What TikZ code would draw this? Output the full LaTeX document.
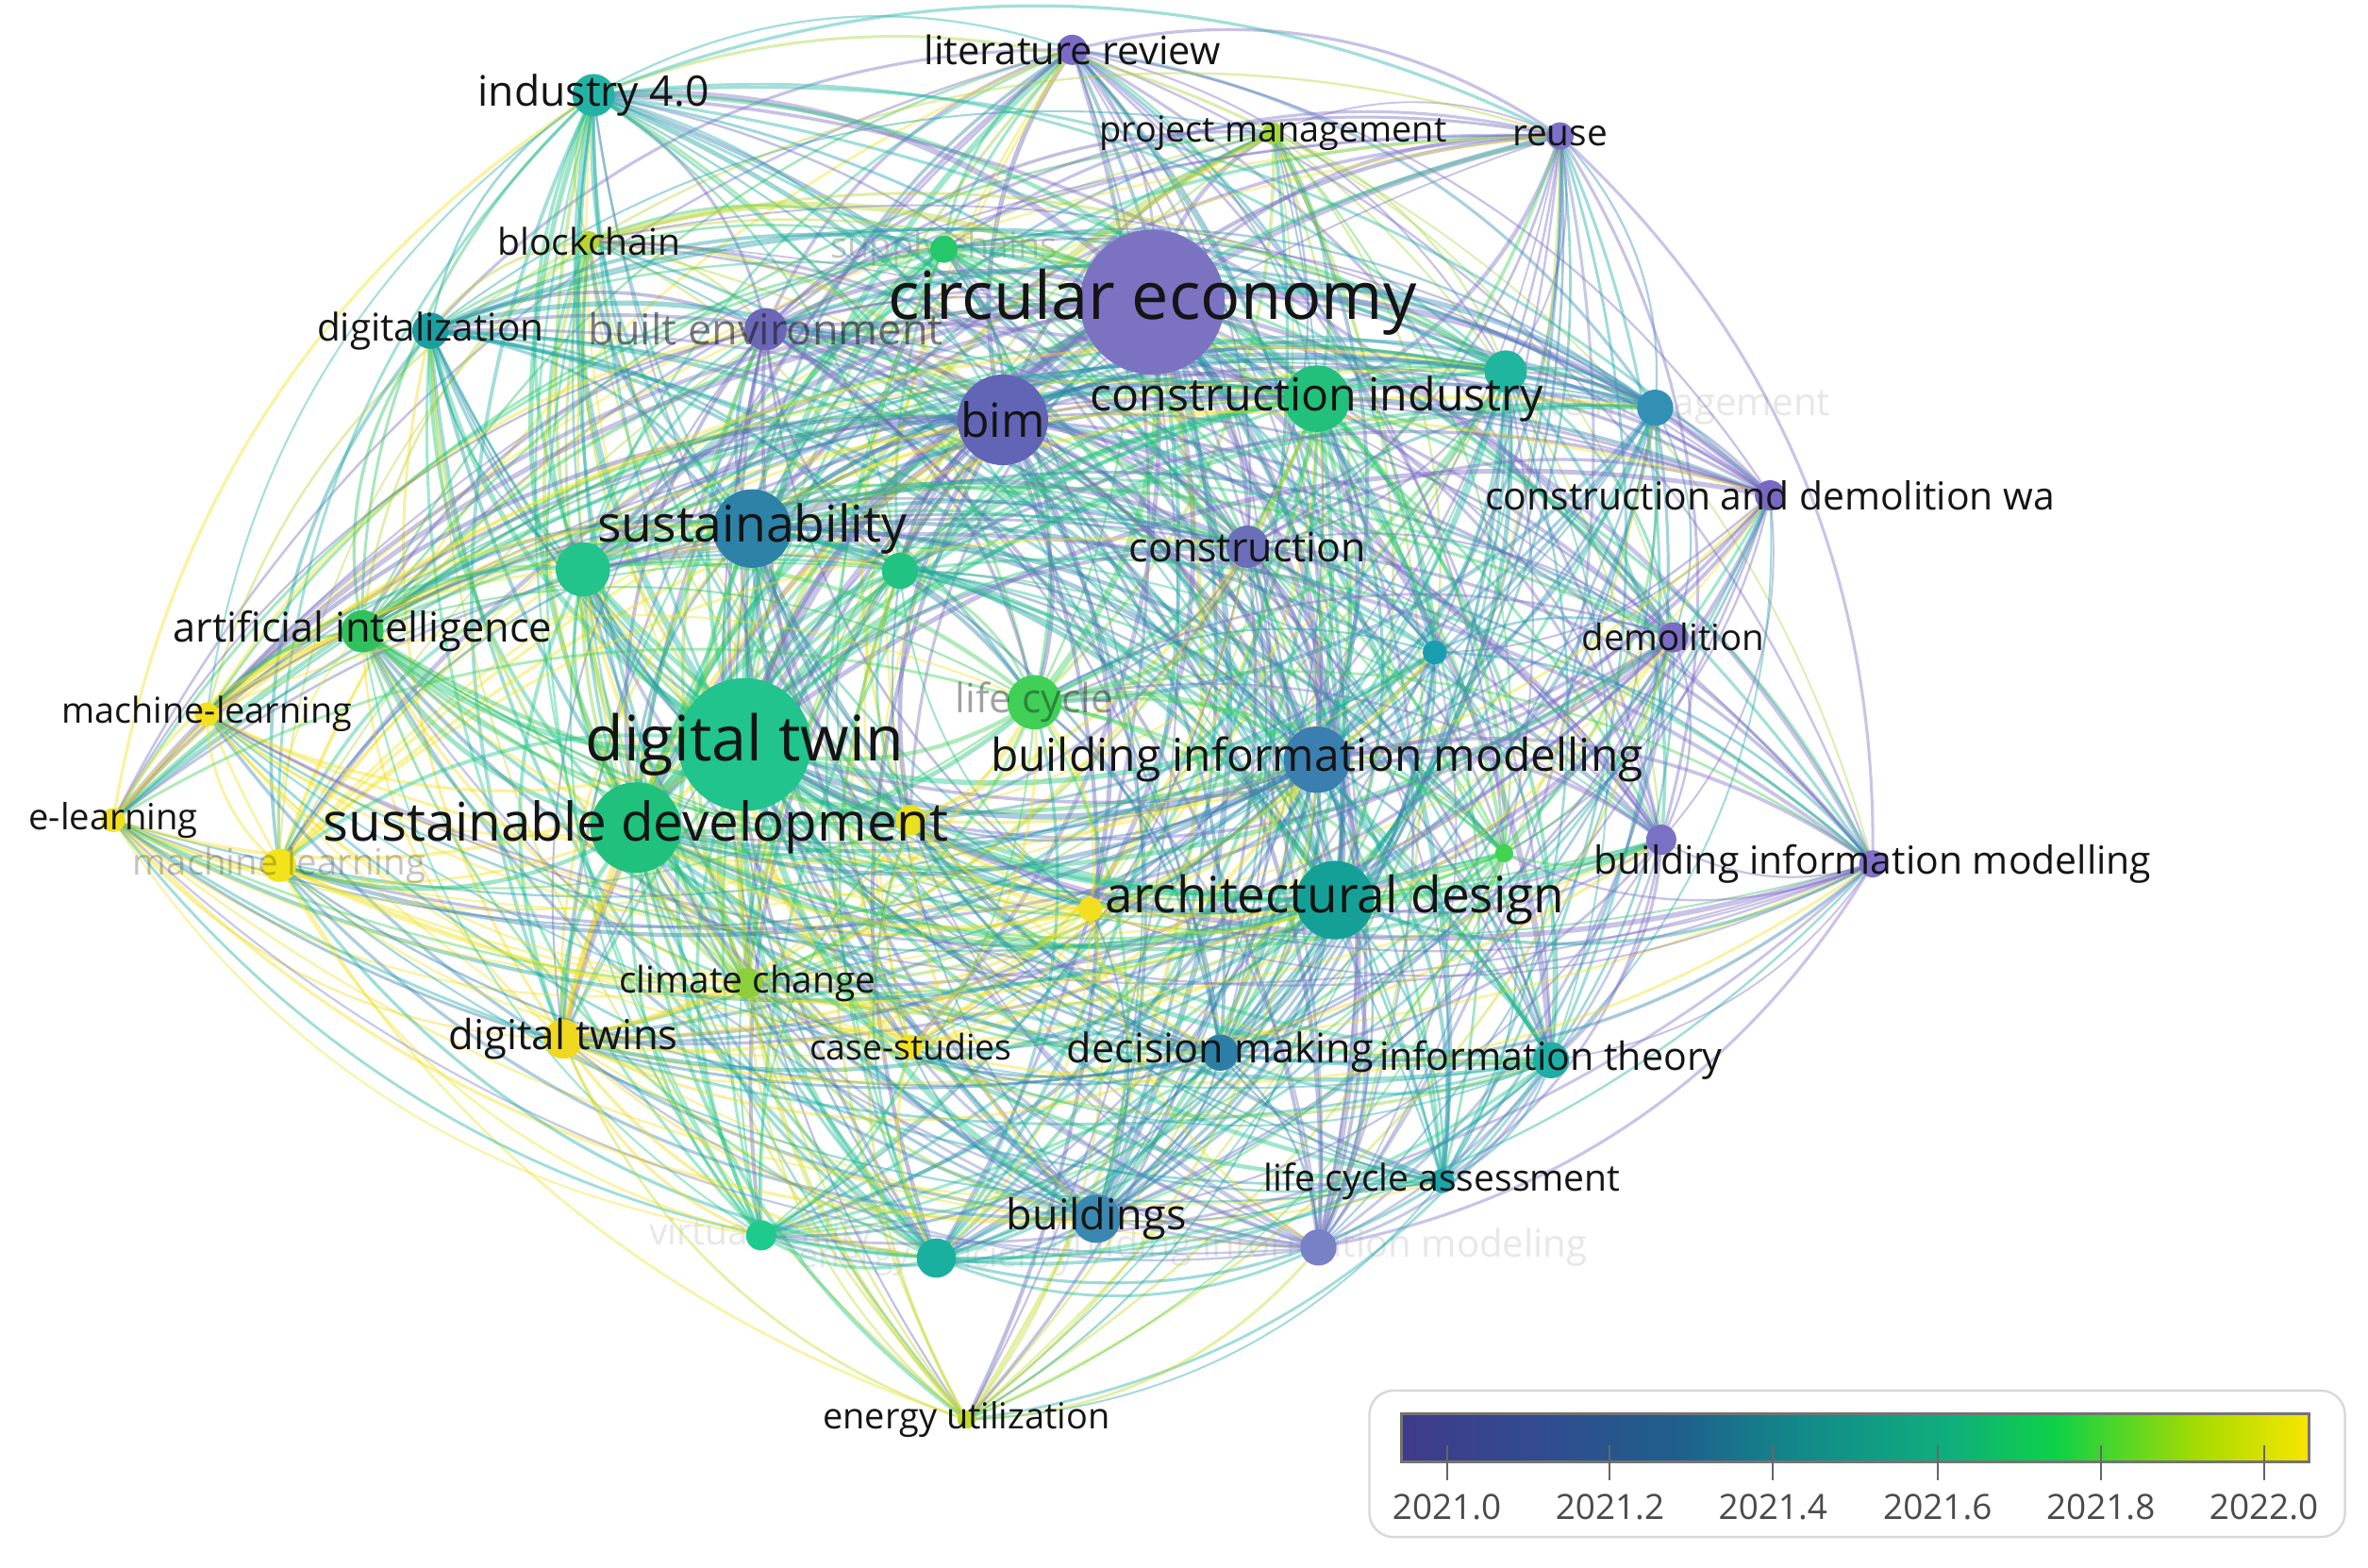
\documentclass[tikz,border=0pt]{standalone}
\usepackage{fontspec}
\setmainfont{Open Sans}
\usepackage{graphicx}
\pgfdeclarelayer{ghost}
\pgfdeclarelayer{edges}
\pgfsetlayers{ghost,edges,main}
\pgfdeclarehorizontalshading{viridisbar}{100bp}{rgb(0bp)=(0.25,0.23,0.54); rgb(25bp)=(0.25,0.23,0.54); rgb(34bp)=(0.18,0.31,0.56); rgb(40bp)=(0.12,0.37,0.55); rgb(47bp)=(0.07,0.54,0.54); rgb(55bp)=(0.06,0.68,0.49); rgb(61bp)=(0.05,0.82,0.28); rgb(69bp)=(0.66,0.86,0.0); rgb(75bp)=(0.97,0.9,0.0); rgb(100bp)=(0.97,0.9,0.0)}
\definecolor{k1}{HTML}{7A6CC6}
\definecolor{k2}{HTML}{A0D838}
\definecolor{k3}{HTML}{7D70C8}
\definecolor{k4}{HTML}{22B3A6}
\definecolor{k5}{HTML}{B8D430}
\definecolor{k6}{HTML}{24C86A}
\definecolor{k7}{HTML}{1A9EA2}
\definecolor{k8}{HTML}{6B66B6}
\definecolor{k9}{HTML}{7B72C2}
\definecolor{k10}{HTML}{6265B5}
\definecolor{k11}{HTML}{22C07A}
\definecolor{k12}{HTML}{20B59E}
\definecolor{k13}{HTML}{3390B5}
\definecolor{k14}{HTML}{7868C4}
\definecolor{k15}{HTML}{2D82A8}
\definecolor{k16}{HTML}{22C48C}
\definecolor{k17}{HTML}{22C283}
\definecolor{k18}{HTML}{6B6FB8}
\definecolor{k19}{HTML}{2FC25C}
\definecolor{k20}{HTML}{7A6CC4}
\definecolor{k21}{HTML}{1A9DB0}
\definecolor{k22}{HTML}{F2E020}
\definecolor{k23}{HTML}{20C48C}
\definecolor{k24}{HTML}{40D058}
\definecolor{k25}{HTML}{3B7FB0}
\definecolor{k26}{HTML}{F2E020}
\definecolor{k27}{HTML}{F3E31A}
\definecolor{k28}{HTML}{1FC17C}
\definecolor{k29}{HTML}{E8E020}
\definecolor{k30}{HTML}{40D450}
\definecolor{k31}{HTML}{7A70C4}
\definecolor{k32}{HTML}{8070C8}
\definecolor{k33}{HTML}{15A097}
\definecolor{k34}{HTML}{F2E020}
\definecolor{k35}{HTML}{8CCF3C}
\definecolor{k36}{HTML}{F0D820}
\definecolor{k37}{HTML}{F2E020}
\definecolor{k38}{HTML}{2D7EA6}
\definecolor{k39}{HTML}{1EAEA6}
\definecolor{k40}{HTML}{1AA5A8}
\definecolor{k41}{HTML}{3A88B2}
\definecolor{k42}{HTML}{7880C6}
\definecolor{k43}{HTML}{1ECB8C}
\definecolor{k44}{HTML}{1AB0A0}
\definecolor{k45}{HTML}{C4D828}
\definecolor{lblk}{HTML}{141414}
\definecolor{legbord}{HTML}{D8D8D8}
\definecolor{ticktxt}{HTML}{4A4A4A}
\tikzset{
  dot/.style={circle, inner sep=0pt, draw=none},
  lbl/.style={inner sep=0pt, outer sep=0pt, text=lblk},
  lgray/.style={text opacity=0.55},
  lmid/.style={text opacity=0.4},
  lfaint/.style={text opacity=0.25},
  lghost/.style={text opacity=0.1},
  lblack/.style={},
  tickline/.style={draw=gray!80!black, line width=1.2pt},
  ticklbl/.style={inner sep=0pt, text=ticktxt},
  legendbox/.style={draw=legbord, line width=1.5pt, rounded corners=16pt, fill=white},
  bar/.style={draw=gray!90!black, line width=2pt, shading=viridisbar}
}
\begin{document}
\begin{tikzpicture}[x=1pt, y=-1pt]
\useasboundingbox (0,0) rectangle (1568,1038);
% nodes
\foreach \i/\x/\y/\r in {1/710/33/10, 2/843/88/7, 3/1033/90/9, 4/393/63/14, 5/390/160/7,
  6/625/165/9, 7/285/219/12, 8/507/218/14, 9/763/200/48, 10/664/278/30,
  11/872/264/22, 12/997/246/14, 13/1096/270/12, 14/1172/328/10, 15/498/350/26,
  16/386/377/18, 17/596/378/12, 18/826/362/14, 19/240/418/14, 20/1108/422/10,
  21/950/432/8, 22/137/473/8, 23/493/493/44, 24/685/465/18, 25/872/503/22,
  26/75/543/8, 27/185/573/11, 28/421/548/30, 29/603/543/10, 30/996/565/6,
  31/1100/556/10, 32/1240/572/9, 33/884/596/26, 34/722/602/8, 35/495/651/10,
  36/373/688/13, 37/603/693/8, 38/808/697/12, 39/1027/702/12, 40/955/782/8,
  41/726/807/16, 42/873/826/12, 43/504/818/10, 44/620/833/13, 45/640/940/6}
  { \node[dot, fill=k\i, minimum size={2*\r*1pt}] (n\i) at (\x,\y) {}; }
% edges
\def\radii{{0,10,7,9,14,7,9,12,14,48,30,22,14,12,10,26,18,12,14,14,10,8,8,44,18,22,8,11,30,10,6,10,9,26,8,10,13,8,12,12,8,16,12,10,13,6}}
\def\xs{{0,710,843,1033,393,390,625,285,507,763,664,872,997,1096,1172,498,386,596,826,240,1108,950,137,493,685,872,75,185,421,603,996,1100,1240,884,722,495,373,603,808,1027,955,726,873,504,620,640}}
\def\ys{{0,33,88,90,63,160,165,219,218,200,278,264,246,270,328,350,377,378,362,418,422,432,473,493,465,503,543,573,548,543,565,556,572,596,602,651,688,693,697,702,782,807,826,818,833,940}}
\begin{pgfonlayer}{edges}
\pgfmathsetseed{4711}
\foreach \i in {1,...,44} {
  \pgfmathtruncatemacro\nx{\i+1}
  \foreach \j in {\nx,...,45} {
    \pgfmathsetmacro\ri{\radii[\i]}
    \pgfmathsetmacro\rj{\radii[\j]}
    \pgfmathsetmacro\pp{min(1,0.14+(\ri+\rj)/36)}
    \pgfmathsetmacro\rr{rnd}
    \ifdim\rr pt<\pp pt
      \pgfmathsetmacro\lw{0.9+(0.3+rnd)*(\ri+\rj)/22}
      \pgfmathsetmacro\cc{rnd}
      \ifdim\cc pt<0.5pt \def\ec{k\i}\else\def\ec{k\j}\fi
      \pgfmathsetmacro\xa{\xs[\i]}
      \pgfmathsetmacro\ya{\ys[\i]}
      \pgfmathsetmacro\xb{\xs[\j]}
      \pgfmathsetmacro\yb{\ys[\j]}
      \pgfmathsetmacro\dx{\xb-\xa}
      \pgfmathsetmacro\dy{\yb-\ya}
      \pgfmathsetmacro\mx{((\xa+\xb)/2-650)/100}
      \pgfmathsetmacro\my{((\ya+\yb)/2-470)/100}
      \pgfmathsetmacro\sg{ifthenelse((\dy/100)*\mx-(\dx/100)*\my>=0,0.15,-0.15)}
      \pgfmathsetmacro\cax{\xa+\dx/3+\sg*\dy}
      \pgfmathsetmacro\cay{\ya+\dy/3-\sg*\dx}
      \pgfmathsetmacro\cbx{\xa+2*\dx/3+\sg*\dy}
      \pgfmathsetmacro\cby{\ya+2*\dy/3-\sg*\dx}
      \draw[line width=\lw pt, draw=\ec, draw opacity=0.42] (n\i.center) .. controls (\cax,\cay) and (\cbx,\cby) .. (n\j.center);
    \fi
  }
}
\end{pgfonlayer}
% labels
\foreach \i/\w/\t/\c in {1/196/literature review/lblack, 2/230/project management/lblack, 3/63/reuse/lblack,
  4/153/industry 4.0/lblack, 5/121/blockchain/lblack, 7/150/digitalization/lblack,
  8/235/built environment/lgray, 9/350/circular economy/lblack, 10/56/bim/lblack,
  11/300/construction industry/lblack,
  14/377/construction and demolition wa/lblack, 15/205/sustainability/lblack, 18/157/construction/lblack,
  19/251/artificial intelligence/lblack, 20/121/demolition/lblack, 22/192/machine-learning/lblack,
  23/211/digital twin/lblack, 24/105/life cycle/lmid, 25/432/building information modelling/lblack,
  26/112/e-learning/lblack, 27/194/machine learning/lfaint, 28/414/sustainable development/lblack,
  32/369/building information modelling/lblack, 33/304/architectural design/lblack,
  35/170/climate change/lblack, 36/152/digital twins/lblack, 37/134/case-studies/lblack,
  38/203/decision making/lblack, 39/227/information theory/lblack, 40/236/life cycle assessment/lblack,
  41/119/buildings/lblack, 45/190/energy utilization/lblack}
  { \node[lbl, \c] (t\i) at (n\i.center) {\resizebox{\w pt}{!}{\t}}; }
\begin{pgfonlayer}{ghost}
\foreach \i/\w/\t/\c in {6/150/supply chains/lfaint, 13/232/waste management/lghost,
  42/356/building information modeling/lghost, 43/148/virtual reality/lghost,
  44/182/energy efficiency/lghost}
  { \node[lbl, \c] (t\i) at (n\i.center) {\resizebox{\w pt}{!}{\t}}; }
\end{pgfonlayer}
% legend
\node[legendbox, minimum width=646pt, minimum height=97pt, anchor=north west] (legend) at (906,920) {};
\node[bar, minimum width=601pt, minimum height=32pt, anchor=north west, inner sep=0pt] (cbar) at (927,935) {};
\foreach \k/\x/\t in {0/958/2021.0, 1/1066/2021.2, 2/1174/2021.4, 3/1283/2021.6, 4/1391/2021.8, 5/1499/2022.0}
{
  \coordinate (ta\k) at (\x,957);
  \coordinate (tb\k) at (\x,980);
  \draw[tickline] (ta\k) -- (tb\k);
  \node[ticklbl] (tl\k) at (\x,998) {\resizebox{72pt}{!}{\t}};
}
\end{tikzpicture}
\end{document}
